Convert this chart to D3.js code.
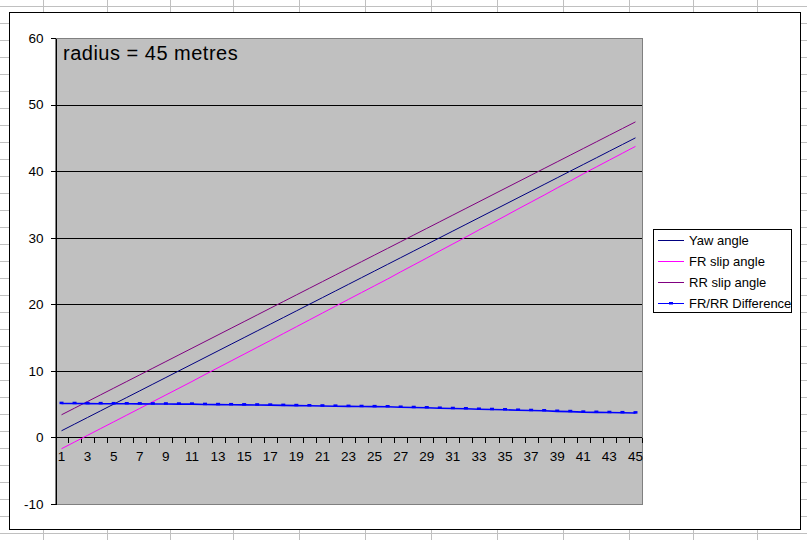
<!DOCTYPE html>
<html>
<head>
<meta charset="utf-8">
<script src="https://cdn.jsdelivr.net/npm/d3@7"></script>
<style>
  body { margin: 0; background: #fff; }
  svg { display: block; font-family: "Liberation Sans", Arial, sans-serif; }
</style>
</head>
<body>
<svg id="chart" width="807" height="540"></svg>
<script>
// categories (1..45) along the x axis
const categories = [1, 2, 3, 4, 5, 6, 7, 8, 9, 10, 11, 12, 13, 14, 15, 16, 17, 18, 19, 20,
  21, 22, 23, 24, 25, 26, 27, 28, 29, 30, 31, 32, 33, 34, 35, 36, 37, 38, 39, 40,
  41, 42, 43, 44, 45]

const yawAngle = [1, 2, 3, 4, 5, 6, 7, 8, 9, 10, 11, 12, 13, 14, 15, 16, 17, 18, 19, 20,
  21, 22, 23, 24, 25, 26, 27, 28, 29, 30, 31, 32, 33, 34, 35, 36, 37, 38, 39, 40,
  41, 42, 43, 44, 45]

const frSlip = [-1.70, -0.69, 0.32, 1.33, 2.34, 3.35, 4.36, 5.37, 6.38, 7.39,
  8.40, 9.45, 10.47, 11.49, 12.51, 13.53, 14.55, 15.59, 16.62, 17.65,
  18.68, 19.71, 20.74, 21.76, 22.78, 23.80, 24.87, 25.91, 26.95, 28.02,
  29.06, 30.10, 31.17, 32.21, 33.25, 34.32, 35.36, 36.40, 37.48, 38.52,
  39.60, 40.63, 41.66, 42.69, 43.72]

const rrSlip = [3.4, 4.4, 5.4, 6.4, 7.4, 8.4, 9.4, 10.4, 11.4, 12.4,
  13.4, 14.4, 15.4, 16.4, 17.4, 18.4, 19.4, 20.4, 21.4, 22.4,
  23.4, 24.4, 25.4, 26.4, 27.4, 28.4, 29.4, 30.4, 31.4, 32.4,
  33.4, 34.4, 35.4, 36.4, 37.4, 38.4, 39.4, 40.4, 41.4, 42.4,
  43.4, 44.4, 45.4, 46.4, 47.4]

const frRrDiff = [5.10, 5.09, 5.08, 5.07, 5.06, 5.05, 5.04, 5.03, 5.02, 5.01,
  5.00, 4.95, 4.93, 4.91, 4.89, 4.87, 4.85, 4.81, 4.78, 4.75,
  4.72, 4.69, 4.66, 4.64, 4.62, 4.60, 4.53, 4.49, 4.45, 4.38,
  4.34, 4.30, 4.23, 4.19, 4.15, 4.08, 4.04, 4.00, 3.92, 3.88,
  3.80, 3.77, 3.74, 3.71, 3.68]

const yTicks = [-10, 0, 10, 20, 30, 40, 50, 60]
const xLabels = categories.filter(c => c % 2 === 1)

const series = [
  { name: 'Yaw angle', values: yawAngle, color: '#000080', width: 1 },
  { name: 'FR slip angle', values: frSlip, color: '#ff00ff', width: 1 },
  { name: 'RR slip angle', values: rrSlip, color: '#800080', width: 1 },
  { name: 'FR/RR Difference', values: frRrDiff, color: '#0000ff', width: 1.6, marker: true },
]

const svg = d3.select('#chart')
const W = 807, H = 540

// spreadsheet grid behind the chart
const sheet = svg.append('g').attr('stroke', '#c0c0c0').attr('shape-rendering', 'crispEdges')
sheet.selectAll('line.row')
  .data(d3.range(6, H, 17))
  .enter().append('line')
  .attr('x1', 0).attr('x2', W)
  .attr('y1', d => d + 0.5).attr('y2', d => d + 0.5)
sheet.selectAll('line.col')
  .data([43, 107, 170, 233, 299, 365, 431, 497, 563, 629, 693, 757])
  .enter().append('line')
  .attr('y1', 0).attr('y2', H)
  .attr('x1', d => d + 0.5).attr('x2', d => d + 0.5)

// chart area
svg.append('rect')
  .attr('x', 9.5).attr('y', 12.5)
  .attr('width', 790.5).attr('height', 516.5)
  .attr('fill', '#fff').attr('stroke', '#000')
  .attr('shape-rendering', 'crispEdges')

const plot = { left: 55, right: 642, top: 38, bottom: 504 }

const x = d3.scaleBand()
  .domain(categories)
  .range([plot.left, plot.right])

const y = d3.scaleLinear()
  .domain([-10, 60])
  .range([plot.bottom, plot.top])

const cx = d => x(d) + x.bandwidth() / 2

// plot area
svg.append('rect')
  .attr('x', plot.left + 0.5).attr('y', plot.top + 0.5)
  .attr('width', plot.right - plot.left - 0.5)
  .attr('height', plot.bottom - plot.top)
  .attr('fill', '#c0c0c0').attr('stroke', '#808080')
  .attr('shape-rendering', 'crispEdges')

// gridlines
svg.append('g')
  .attr('shape-rendering', 'crispEdges')
  .selectAll('line')
  .data(yTicks.filter(t => t > 0 && t < 60))
  .enter().append('line')
  .attr('x1', plot.left).attr('x2', plot.right)
  .attr('y1', d => Math.round(y(d)) + 0.5).attr('y2', d => Math.round(y(d)) + 0.5)
  .attr('stroke', '#000')

// value axis
const yAxis = svg.append('g')
  .attr('transform', `translate(${plot.left + 0.5},0)`)
  .call(d3.axisLeft(y).tickValues(yTicks).tickFormat(d => String(d))
    .tickSize(5).tickSizeOuter(0).tickPadding(7))
yAxis.selectAll('path, line').attr('stroke', '#000').attr('shape-rendering', 'crispEdges')
yAxis.selectAll('text').attr('font-size', 13.5).attr('fill', '#000')
  .attr('font-family', '"Liberation Sans", Arial, sans-serif')

// category axis crossing at 0
const y0 = Math.round(y(0)) + 0.5
svg.append('line')
  .attr('x1', plot.left).attr('x2', plot.right)
  .attr('y1', y0).attr('y2', y0)
  .attr('stroke', '#000').attr('shape-rendering', 'crispEdges')
svg.append('g')
  .attr('shape-rendering', 'crispEdges')
  .selectAll('line')
  .data(categories)
  .enter().append('line')
  .attr('x1', d => Math.round(x(d) + x.bandwidth()) + 0.5)
  .attr('x2', d => Math.round(x(d) + x.bandwidth()) + 0.5)
  .attr('y1', y0).attr('y2', y0 + 5)
  .attr('stroke', '#000')
svg.append('g')
  .selectAll('text')
  .data(xLabels)
  .enter().append('text')
  .attr('x', d => cx(d))
  .attr('y', y0 + 23)
  .attr('text-anchor', 'middle')
  .attr('font-size', 13.5)
  .text(d => d)

// series lines
const line = d3.line()
  .x((d, i) => cx(categories[i]))
  .y(d => y(d))

series.forEach(s => {
  svg.append('path')
    .datum(s.values)
    .attr('d', line)
    .attr('fill', 'none')
    .attr('stroke', s.color)
    .attr('stroke-width', s.width)
  if (s.marker) {
    svg.append('g')
      .selectAll('rect')
      .data(s.values)
      .enter().append('rect')
      .attr('x', (d, i) => cx(categories[i]) - 2)
      .attr('y', d => y(d) - 1.8)
      .attr('width', 4).attr('height', 2.5)
      .attr('fill', s.color)
  }
})

// title text inside plot
svg.append('text')
  .attr('x', 63).attr('y', 60)
  .attr('font-size', 20)
  .attr('letter-spacing', 0.5)
  .attr('fill', '#000')
  .text('radius = 45 metres')

// legend
const lg = svg.append('g').attr('transform', 'translate(653,229)')
lg.append('rect')
  .attr('x', 0.5).attr('y', 0.5)
  .attr('width', 138).attr('height', 83)
  .attr('fill', '#fff').attr('stroke', '#000')
  .attr('shape-rendering', 'crispEdges')
const item = lg.selectAll('g.item')
  .data(series)
  .enter().append('g')
  .attr('transform', (d, i) => `translate(0,${11 + i * 21})`)
item.append('line')
  .attr('x1', 5).attr('x2', 31)
  .attr('y1', 0.5).attr('y2', 0.5)
  .attr('stroke', d => d.color)
  .attr('stroke-width', d => d.width)
  .attr('shape-rendering', 'crispEdges')
item.filter(d => d.marker).append('rect')
  .attr('x', 16).attr('y', -1).attr('width', 4).attr('height', 2.5)
  .attr('fill', d => d.color)
item.append('text')
  .attr('x', 36).attr('y', 5)
  .attr('font-size', 13)
  .text(d => d.name)
</script>
</body>
</html>
